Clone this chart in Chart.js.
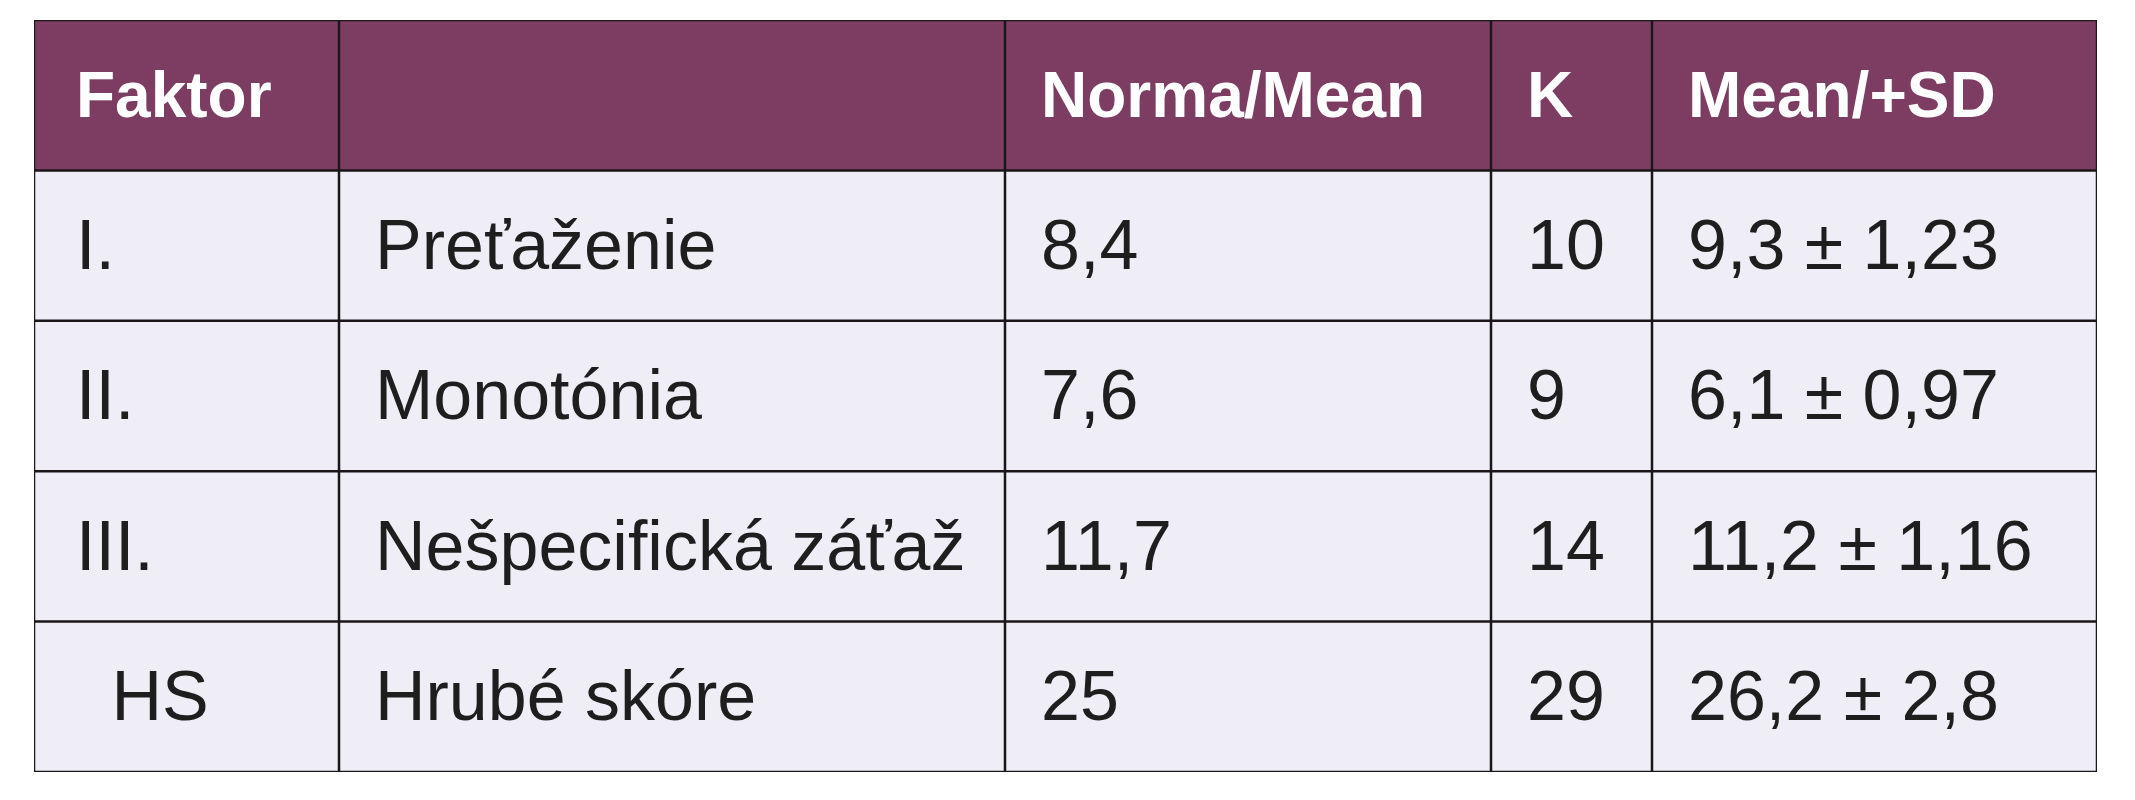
<!DOCTYPE html>
<html><head><meta charset="utf-8">
<script src="https://cdn.jsdelivr.net/npm/chart.js@4/dist/chart.umd.min.js"></script>
<style>html,body{margin:0;background:#fff}#w{width:2135px;height:800px}</style>
</head><body><div id="w"><canvas id="c"></canvas></div>
<script>
const headers = ['Faktor', '', 'Norma/Mean', 'K', 'Mean/+SD'];
const factors = ['I.', 'II.', 'III.', ' HS'];
const names = ['Preťaženie', 'Monotónia', 'Nešpecifická záťaž', 'Hrubé skóre'];
const norms = ['8,4', '7,6', '11,7', '25'];
const kValues = ['10', '9', '14', '29'];
const meanSD = ['9,3 ± 1,23', '6,1 ± 0,97', '11,2 ± 1,16', '26,2 ± 2,8'];
const colWidths = [305, 666, 486, 161, 445];

const rowsText = [headers].concat(factors.map((f, i) => [f, names[i], norms[i], kValues[i], meanSD[i]]));
const rowLabels = rowsText.map((r, i) => 'r' + i);
const edges = [0];
colWidths.forEach(w => edges.push(edges[edges.length - 1] + w));
const PURPLE = '#7d3c61', BODY = '#efeef6';

const datasets = colWidths.map((w, c) => ({
  data: rowLabels.map(() => [edges[c], edges[c + 1]]),
  backgroundColor: rowLabels.map((_, r) => r === 0 ? PURPLE : BODY),
  borderColor: '#1b1619', borderWidth: 1.6, borderSkipped: false,
  barPercentage: 1, categoryPercentage: 1, grouped: false
}));

const textPlugin = {
  id: 'cellText',
  afterDatasetsDraw(chart) {
    const ctx = chart.ctx, x = chart.scales.x, y = chart.scales.y;
    ctx.save();
    ctx.textBaseline = 'middle';
    rowsText.forEach((row, r) => {
      const yc = y.getPixelForValue(r) + 4;
      row.forEach((t, c) => {
        if (!t) return;
        ctx.fillStyle = r === 0 ? '#ffffff' : '#1e1e1e';
        ctx.font = r === 0 ? 'bold 64px "Liberation Sans Narrow", "Liberation Sans", sans-serif'
                           : '70px "Liberation Sans Narrow", "Liberation Sans", sans-serif';
        const pad = c === 0 ? 42 : 36;
        ctx.fillText(t, x.getPixelForValue(edges[c]) + pad + (t.startsWith(' ') ? 16 : 0), yc);
      });
    });
    ctx.restore();
  }
};

new Chart(document.getElementById('c'), {
  type: 'bar',
  data: { labels: rowLabels, datasets },
  options: {
    indexAxis: 'y', responsive: true, maintainAspectRatio: false, animation: false,
    layout: { padding: { left: 34, right: 38, top: 20, bottom: 28 } },
    plugins: { legend: { display: false }, tooltip: { enabled: false } },
    scales: {
      x: { type: 'linear', min: 0, max: edges[edges.length - 1], display: false },
      y: { type: 'category', display: false, offset: true }
    }
  },
  plugins: [textPlugin]
});
</script></body></html>
